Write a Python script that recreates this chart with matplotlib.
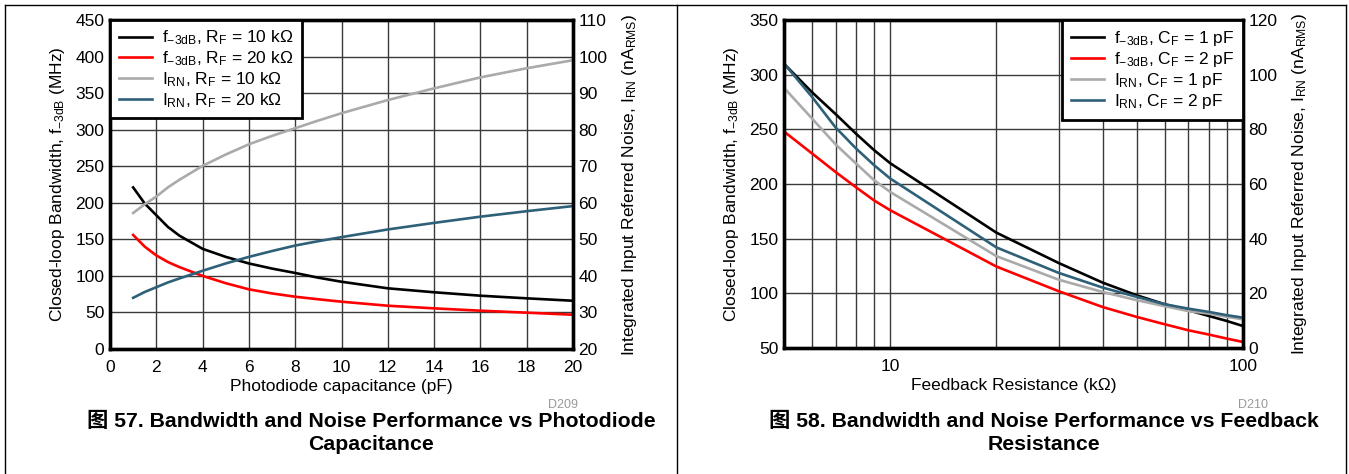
import matplotlib
matplotlib.use("Agg")
import matplotlib.pyplot as plt
from matplotlib.lines import Line2D
from matplotlib.ticker import FixedLocator, NullFormatter

plt.rcParams['font.family'] = ['Liberation Sans', 'Noto Sans CJK SC', 'DejaVu Sans']
plt.rcParams['mathtext.default'] = 'regular'

# --- figure 57 data: photodiode capacitance sweep ---
cap_pf = [1, 1.5, 2, 2.5, 3, 4, 5, 6, 7, 8, 9, 10, 12, 14, 16, 18, 20]
f3db_rf10k = [221, 199, 183, 167, 155, 137, 126, 117, 110, 104, 97.5, 92, 83, 77.6, 72.9, 69.3, 66]
f3db_rf20k = [156, 140, 128, 119, 112, 100, 90, 81.6, 76, 71.5, 68, 64.7, 59.2, 55.6, 52.4, 49.7, 46.9]
irn_rf10k = [57.2, 59.6, 61.7, 64.2, 66.3, 70.1, 73.2, 76, 78.3, 80.4, 82.5, 84.5, 88.1, 91.3, 94.3, 96.8, 99]
irn_rf20k = [34, 35.6, 36.9, 38.2, 39.3, 41.4, 43.4, 45.2, 46.8, 48.3, 49.5, 50.6, 52.7, 54.5, 56.2, 57.7, 59.1]

# --- figure 58 data: feedback resistance sweep ---
rf_kohm = [5, 6, 7, 8, 9, 10, 20, 30, 40, 50, 60, 70, 80, 90, 100]
f3db_cf1p = [310, 284, 264, 246, 231, 219, 155.5, 127.8, 109.8, 98.2, 90, 84.5, 79.3, 74.7, 70.1]
f3db_cf2p = [248, 228, 211, 197, 185, 176, 124.5, 102, 87.5, 78.4, 71.7, 66.2, 62.3, 58.6, 55.5]
irn_cf1p = [95.2, 84, 74.5, 67.5, 61.4, 57.1, 33.6, 25, 20.5, 17.5, 15.3, 13.5, 12.6, 11.4, 10.5]
irn_cf2p = [104.1, 91.9, 80.7, 73, 66.9, 62, 36.8, 27.5, 22.1, 18.7, 16, 14.4, 13.2, 12, 11.1]

C_BLACK = '#000000'
C_RED = '#ff0000'
C_GRAY = '#aaaaaa'
C_BLUE = '#2e6078'
LW = 1.9
FS = 12.5

W, H = 1349, 474
fig = plt.figure(figsize=(W / 100, H / 100), dpi=100)


def fx(px):
    return px / W


def fy(py):
    return 1 - py / H


def style_axes(ax, ax2):
    for a in (ax, ax2):
        for s in a.spines.values():
            s.set_linewidth(2.4)
            s.set_color('black')
        a.tick_params(which='both', length=0, labelsize=FS, pad=4)
    ax.tick_params(axis='x', which='both', pad=8)
    ax.grid(True, which='both', color='#3a3a3a', lw=1.0)
    ax.set_axisbelow(True)


def add_legend(a, handles, labels, loc):
    leg = a.legend(handles, labels, loc=loc, borderaxespad=0, fancybox=False, fontsize=FS,
                   handlelength=1.9, handletextpad=0.6, labelspacing=0.12, borderpad=0.5,
                   framealpha=1)
    leg.get_frame().set_edgecolor('black')
    leg.get_frame().set_linewidth(2)


# ---------------- left panel ----------------
ax = fig.add_axes([fx(110), fy(349), fx(573 - 110), (349 - 20) / H])
ax2 = ax.twinx()
l1, = ax.plot(cap_pf, f3db_rf10k, color=C_BLACK, lw=LW)
l2, = ax.plot(cap_pf, f3db_rf20k, color=C_RED, lw=LW)
l3, = ax2.plot(cap_pf, irn_rf10k, color=C_GRAY, lw=LW)
l4, = ax2.plot(cap_pf, irn_rf20k, color=C_BLUE, lw=LW)
ax.set_xlim(0, 20)
ax.set_ylim(0, 450)
ax2.set_ylim(20, 110)
ax.set_xticks(range(0, 21, 2))
ax.set_yticks(range(0, 451, 50))
ax2.set_yticks(range(20, 111, 10))
style_axes(ax, ax2)
ax.set_xlabel('Photodiode capacitance (pF)', fontsize=FS, labelpad=3)
ax.set_ylabel('Closed-loop Bandwidth, f$_{-3dB}$ (MHz)', fontsize=FS, labelpad=6)
ax2.set_ylabel('Integrated Input Referred Noise, I$_{RN}$ (nA$_{RMS}$)', fontsize=FS, labelpad=9)
add_legend(ax2, [l1, l2, l3, l4],
           ['f$_{-3dB}$, R$_F$ = 10 k\u03a9', 'f$_{-3dB}$, R$_F$ = 20 k\u03a9',
            'I$_{RN}$, R$_F$ = 10 k\u03a9', 'I$_{RN}$, R$_F$ = 20 k\u03a9'], 'upper left')

# ---------------- right panel ----------------
bx = fig.add_axes([fx(784), fy(348), fx(1243 - 784), (348 - 20) / H])
bx2 = bx.twinx()
m1, = bx.plot(rf_kohm, f3db_cf1p, color=C_BLACK, lw=LW)
m2, = bx.plot(rf_kohm, f3db_cf2p, color=C_RED, lw=LW)
m3, = bx2.plot(rf_kohm, irn_cf1p, color=C_GRAY, lw=LW)
m4, = bx2.plot(rf_kohm, irn_cf2p, color=C_BLUE, lw=LW)
bx.set_xscale('log')
bx.set_xlim(5, 100)
bx.set_ylim(50, 350)
bx2.set_ylim(0, 120)
bx.xaxis.set_major_locator(FixedLocator([10, 100]))
bx.xaxis.set_minor_locator(FixedLocator([6, 7, 8, 9, 20, 30, 40, 50, 60, 70, 80, 90]))
bx.xaxis.set_minor_formatter(NullFormatter())
bx.set_xticklabels(['10', '100'])
bx.set_yticks(range(50, 351, 50))
bx2.set_yticks(range(0, 121, 20))
style_axes(bx, bx2)
bx.set_xlabel('Feedback Resistance (k\u03a9)', fontsize=FS, labelpad=3)
bx.set_ylabel('Closed-loop Bandwidth, f$_{-3dB}$ (MHz)', fontsize=FS, labelpad=6)
bx2.set_ylabel('Integrated Input Referred Noise, I$_{RN}$ (nA$_{RMS}$)', fontsize=FS, labelpad=9)
add_legend(bx2, [m1, m2, m3, m4],
           ['f$_{-3dB}$, C$_F$ = 1 pF', 'f$_{-3dB}$, C$_F$ = 2 pF',
            'I$_{RN}$, C$_F$ = 1 pF', 'I$_{RN}$, C$_F$ = 2 pF'], 'upper right')

# figure ids and captions
fig.text(fx(563), fy(405), 'D209', fontsize=9, color='#999999', ha='center', va='center')
fig.text(fx(1253), fy(405), 'D210', fontsize=9, color='#999999', ha='center', va='center')
cap_kw = dict(fontsize=15.3, fontweight='bold', ha='center', va='center', linespacing=1.3)
fig.text(fx(371), fy(433), '图 57. Bandwidth and Noise Performance vs Photodiode\nCapacitance', **cap_kw)
fig.text(fx(1044), fy(433), '图 58. Bandwidth and Noise Performance vs Feedback\nResistance', **cap_kw)

# panel frame
for xs, ys in [([5, 5], [5, 474]), ([677, 677], [5, 474]), ([1346, 1346], [5, 474]),
               ([5, 1346], [5, 5])]:
    fig.add_artist(Line2D([fx(x) for x in xs], [fy(y) for y in ys], color='black', lw=1.0))

fig.savefig('out.png', dpi=100)
